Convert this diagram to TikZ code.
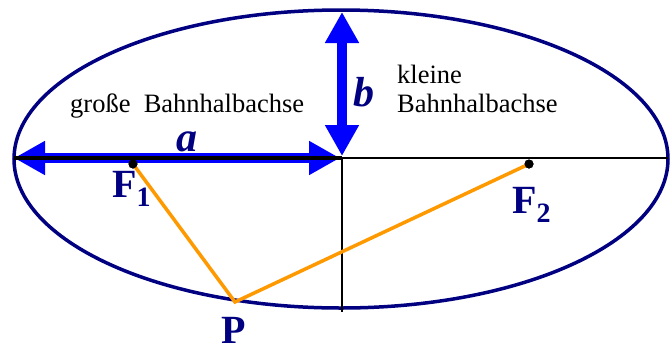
\documentclass[tikz,border=0pt]{standalone}
\usepackage{fontspec}
\setmainfont{Liberation Serif}
\usetikzlibrary{arrows.meta}
\definecolor{navy}{RGB}{0,0,128}
\definecolor{pureblue}{RGB}{0,0,255}
\definecolor{orbit}{RGB}{255,153,0}
\tikzset{
  orbitline/.style={navy, line width=3.5pt},
  axisline/.style={black, line width=2pt},
  bluearrow/.style={pureblue, line width=10pt, {Triangle[length=31pt,width=32pt]}-{Triangle[length=31pt,width=32pt]}},
  rayline/.style={orbit, line width=3.5pt},
  focusdot/.style={circle, fill=black, inner sep=0pt, minimum size=9pt},
  biglabel/.style={navy, font=\fontsize{40}{44}\selectfont\bfseries, inner sep=0pt},
  varlabel/.style={navy, font=\fontsize{42}{46}\selectfont\bfseries\itshape, inner sep=0pt},
  textlabel/.style={black, font=\fontsize{26.5}{29}\selectfont, inner sep=0pt, anchor=base west}
}
\begin{document}
\begin{tikzpicture}[x=1pt,y=-1pt]
\useasboundingbox (0,0) rectangle (670,349);
\coordinate (O) at (342,158);
\coordinate (L) at (14,158);
\coordinate (R) at (668,158);
\coordinate (T) at (342,12);
\coordinate (B) at (342,312);
\coordinate (Ah) at (340,158);
\coordinate (Bt) at (342,156);
% ellipse
\draw[orbitline] (341,159) ellipse [x radius=327, y radius=149];
% axes
\draw[axisline] (O) -- (B);
\draw[axisline] (O) -- (R);
% blue arrows
\draw[bluearrow] (L) -- (Ah);
\draw[bluearrow] (T) -- (Bt);
\draw[black, line width=3.5pt] (L) -- (O);
% foci and point
\node[focusdot] (F1) at (133,164) {};
\node[focusdot] (F2) at (529,164) {};
\coordinate (P) at (235,302);
\draw[rayline, line join=miter] (F1.center) -- (P) -- (F2.center);
\node[focusdot] at (F1) {};
\node[focusdot] at (F2) {};
% labels
\node[biglabel, anchor=base west] (lF1) at (112,197) {F\textsubscript{1}};
\node[biglabel, anchor=base west] (lF2) at (512,213) {F\textsubscript{2}};
\node[biglabel, anchor=base] (lP) at (234,343) {P};
\node[varlabel, anchor=base] (la) at (187,151) {a};
\node[varlabel, anchor=base] (lb) at (364,106) {b};
\node[textlabel] (t1) at (70,112) {große\ \ Bahnhalbachse};
\node[textlabel] (t2) at (397,83) {kleine};
\node[textlabel] (t3) at (397,112) {Bahnhalbachse};
\end{tikzpicture}
\end{document}
